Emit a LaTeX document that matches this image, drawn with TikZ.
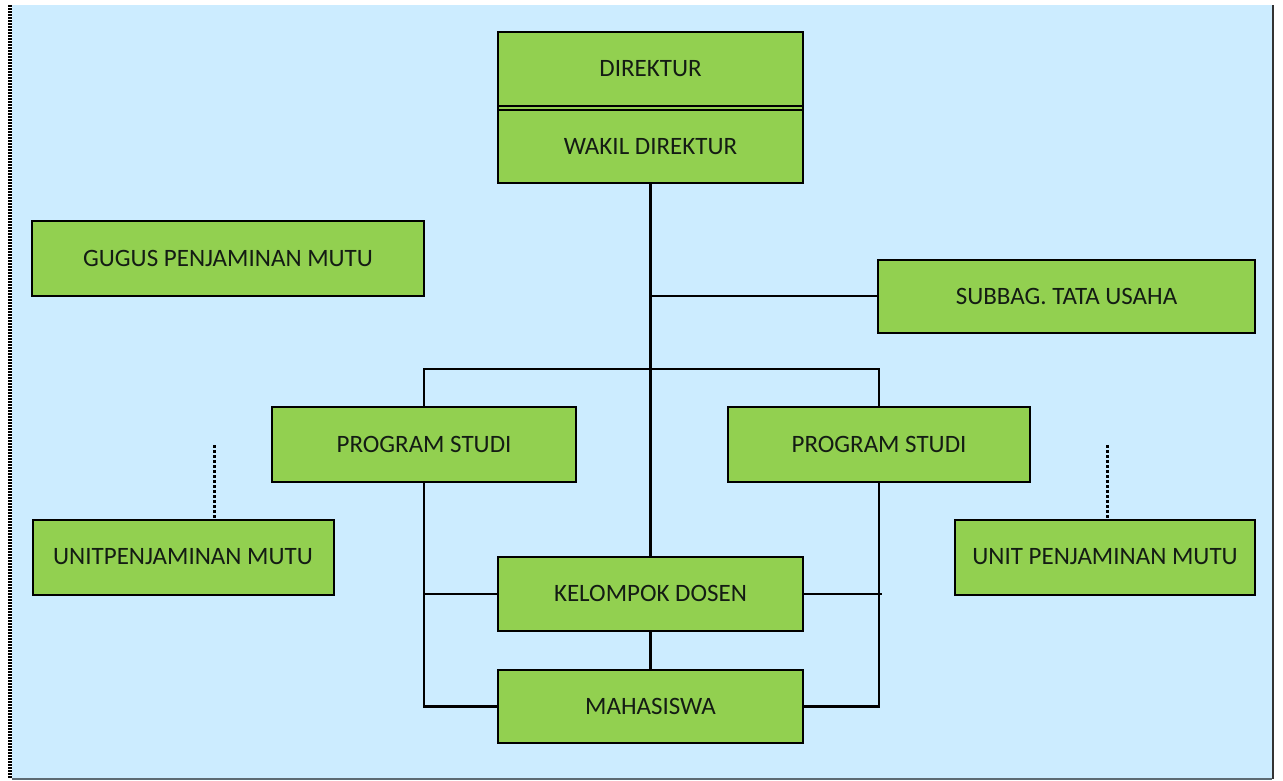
\documentclass[tikz,border=0pt]{standalone}
\usepackage{fontspec}
\setmainfont{Carlito}
\definecolor{bgblue}{HTML}{CCECFF}
\definecolor{boxgreen}{HTML}{92D050}
\definecolor{txt}{HTML}{141C14}
\begin{document}
\begin{tikzpicture}[x=1pt,y=-1pt,
  box/.style={draw=black, line width=2pt, fill=boxgreen, inner sep=0pt,
    text=txt, font=\fontsize{25}{30}\selectfont},
  conn/.style={draw=black, line width=2.2pt},
  dots/.style={draw=black, line width=2.4pt, dash pattern=on 3pt off 2pt}]
\useasboundingbox (0,0) rectangle (1283,780);
\fill[white] (0,0) rectangle (1283,780);
\fill[bgblue] (12,5) rectangle (1272,779);
\draw[black!80, line width=2.5pt] (1273,5) -- (1273,779);
\draw[black!55!bgblue, line width=1.5pt] (12,779) -- (1272,779);
\draw[black, line width=4pt, dash pattern=on 1.5pt off 1.5pt] (9.5,5) -- (9.5,779);
% top double box
\draw[draw=black, line width=2pt, fill=boxgreen] (498,32) rectangle (803,183);
\node[box, minimum width=305pt, minimum height=74pt] (dir) at (650.5,69) {DIREKTUR};
\node[box, minimum width=305pt, minimum height=73pt] (wak) at (650.5,146.5) {WAKIL DIREKTUR};
\node[box, minimum width=392pt, minimum height=75pt] (gug) at (228,258.5) {GUGUS PENJAMINAN MUTU};
\node[box, minimum width=377pt, minimum height=72.7pt] (sub) at (1066.5,296.3) {SUBBAG. TATA USAHA};
\node[box, minimum width=304pt, minimum height=75pt] (psl) at (424,444.5) {PROGRAM STUDI};
\node[box, minimum width=302pt, minimum height=75pt] (psr) at (879,444.5) {PROGRAM STUDI};
\node[box, minimum width=301pt, minimum height=75pt] (ul) at (183,557) {UNITPENJAMINAN MUTU};
\node[box, minimum width=300pt, minimum height=75pt] (ur) at (1105,557) {UNIT PENJAMINAN MUTU};
\node[box, minimum width=305pt, minimum height=73.5pt] (kel) at (650.5,593.75) {KELOMPOK DOSEN};
\node[box, minimum width=305pt, minimum height=73pt] (mah) at (650.5,706.5) {MAHASISWA};
\coordinate (dl) at (214.5,445);
\coordinate (dr) at (1107.5,445);
% connectors
\draw[conn] (wak.south) -- (kel.north);
\draw[conn] (sub.west) -- (sub.west -| wak.south);
\draw[conn] (psl.north) -- ++(0,-37) -| (psr.north);
\draw[conn] (psl.south) |- (mah.west);
\draw[conn] (kel.west) -- (kel.west -| psl.south);
\draw[conn] (psr.south) |- (mah.east);
\draw[conn] (kel.east) -- ([xshift=3pt]kel.east -| psr.south);
\draw[conn] (kel.south) -- (mah.north);
\draw[dots] (dl) -- (ul.north -| dl);
\draw[dots] (dr) -- (ur.north -| dr);
\end{tikzpicture}
\end{document}
